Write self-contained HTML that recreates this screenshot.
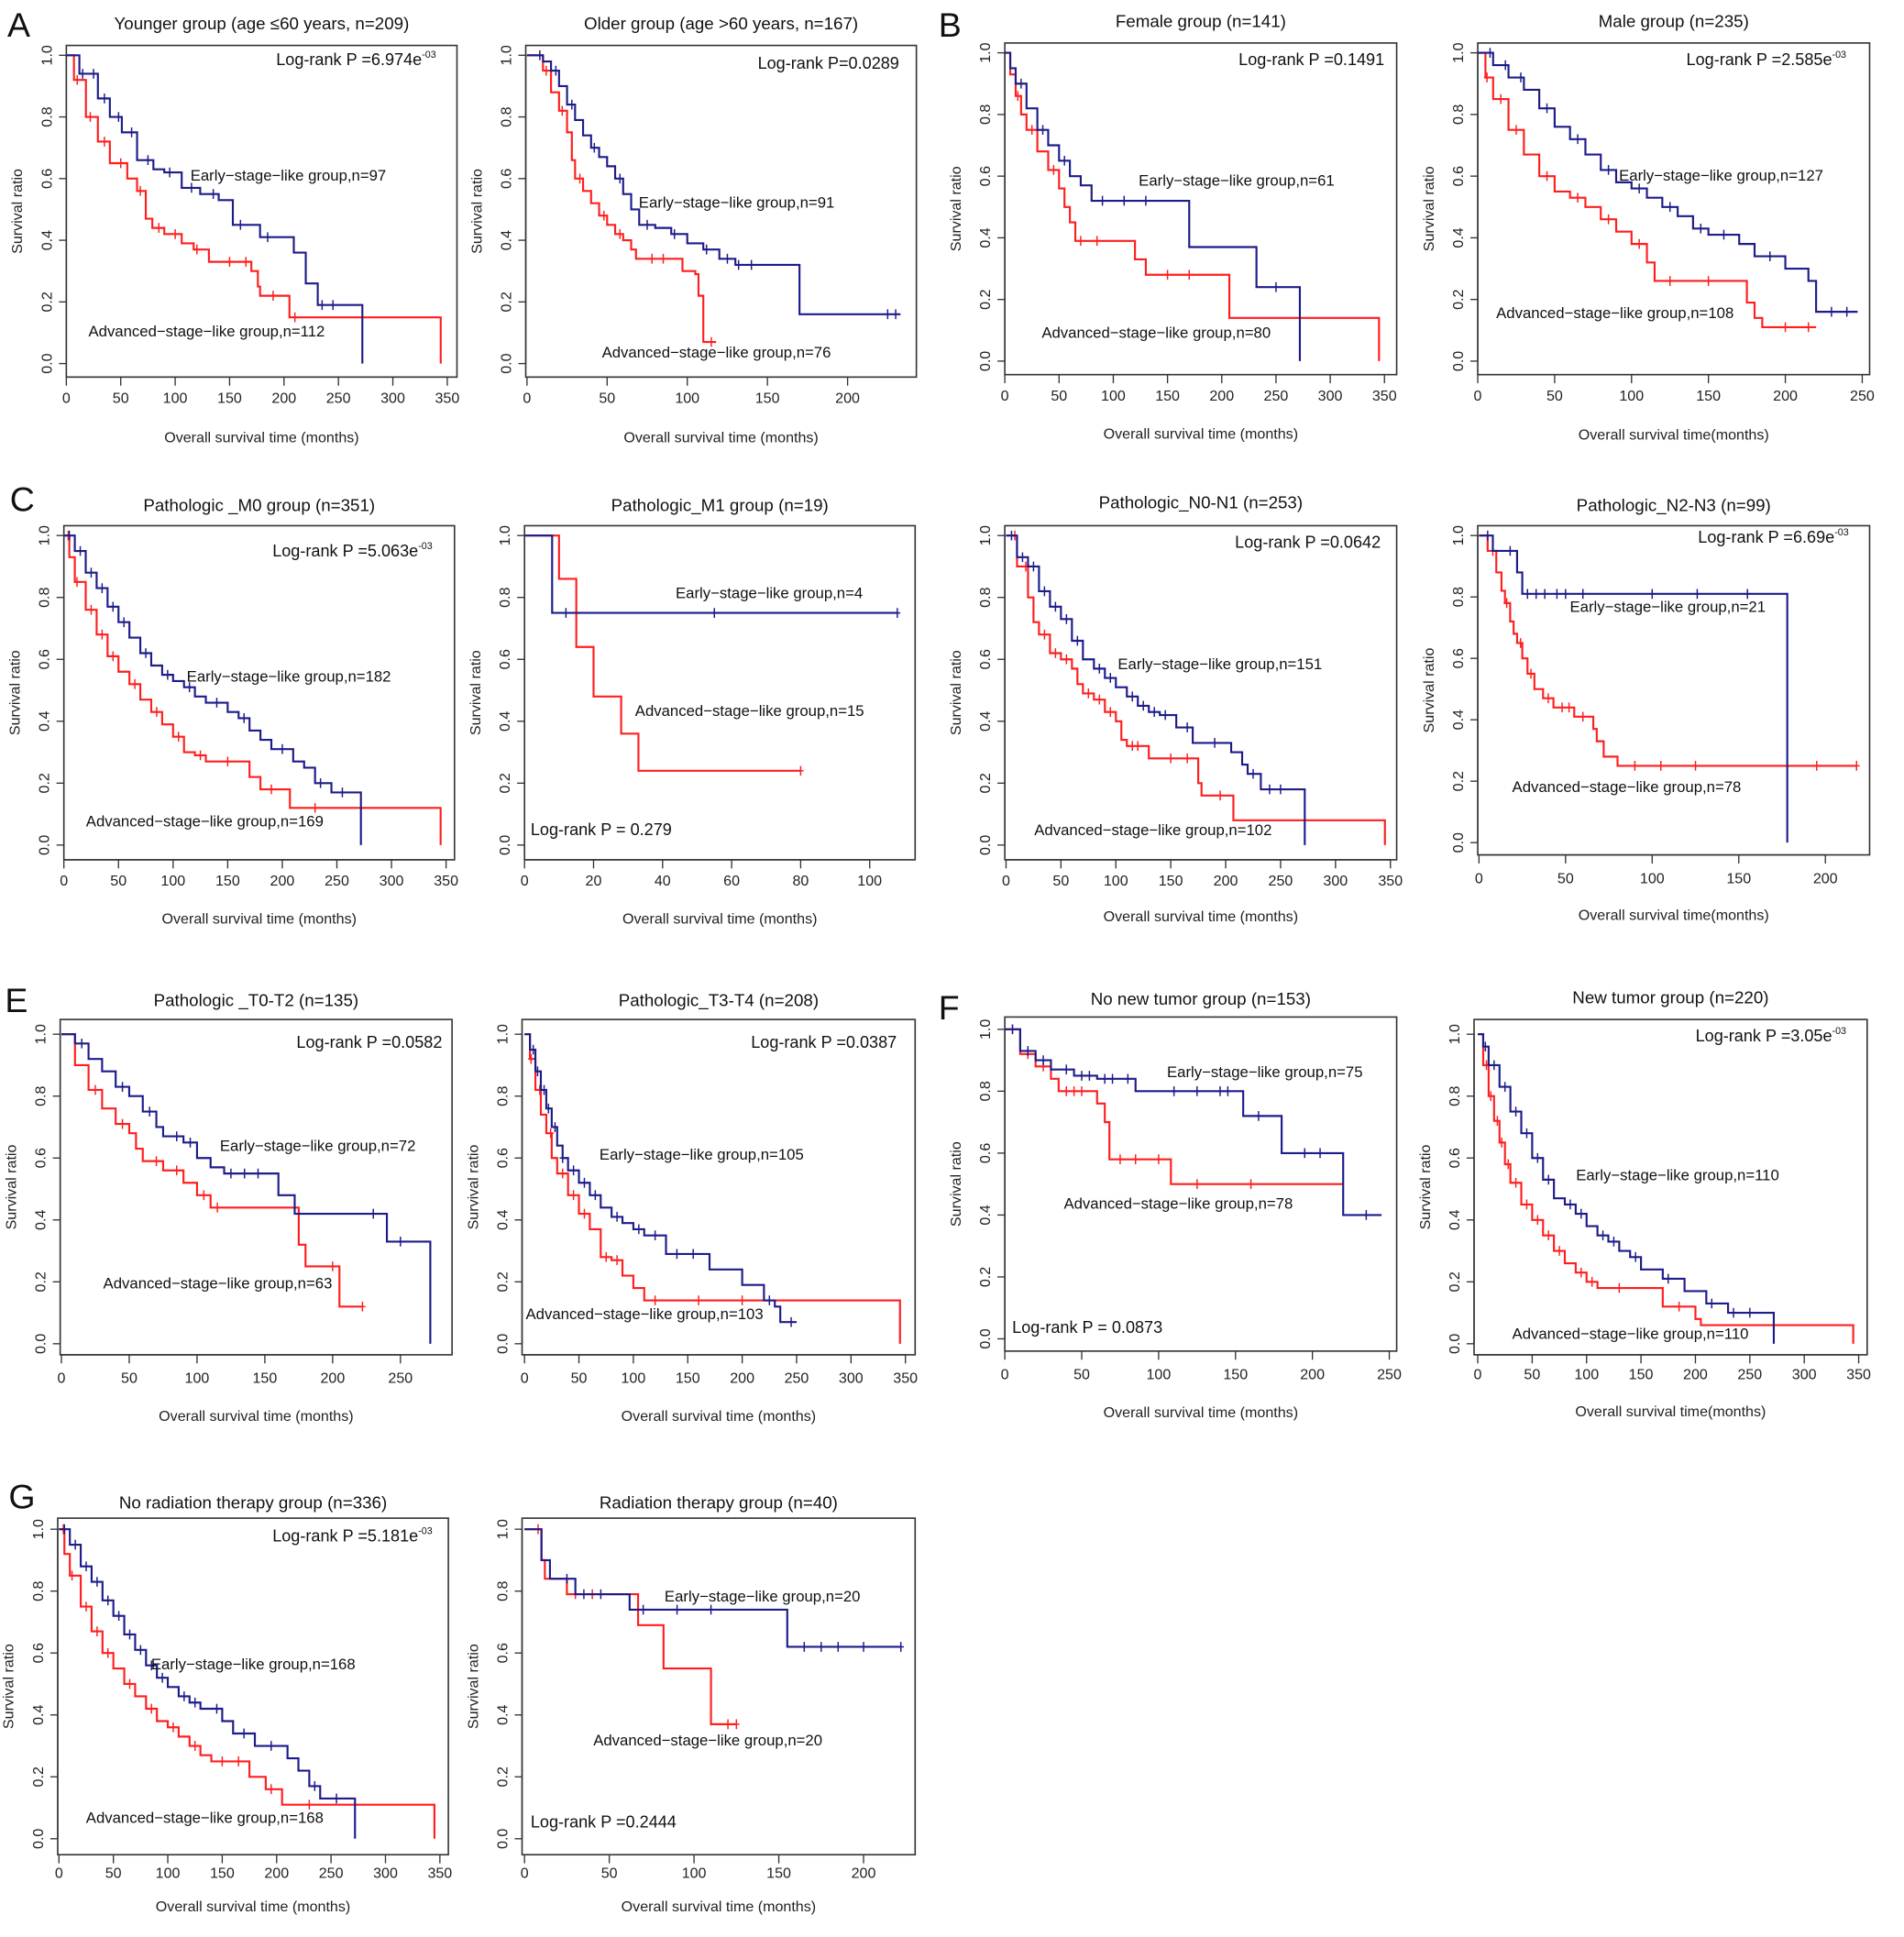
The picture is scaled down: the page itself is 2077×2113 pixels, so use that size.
<!DOCTYPE html>
<html><head><meta charset="utf-8"><title>Kaplan-Meier survival curves</title>
<style>
html,body{margin:0;padding:0;background:#fff;}
svg{display:block;font-family:"Liberation Sans",Arial,sans-serif;}
</style></head>
<body>
<svg id="fig" width="2077" height="2113" viewBox="0 0 1550 1577" preserveAspectRatio="none" xmlns="http://www.w3.org/2000/svg">
<g font-size="28" fill="#111">
<text x="6" y="30">A</text>
<text x="764" y="30">B</text>
<text x="8" y="416">C</text>
<text x="4" y="824">E</text>
<text x="764" y="830">F</text>
<text x="7" y="1228">G</text>
</g>
</svg>
<script>
// ---- data (months, survival) ----
const p1_early_t=[0,12,29,40,51,65,80,90,106,123,140,153,178,209,220,231,272];
const p1_early_s=[1,0.94,0.86,0.80,0.75,0.66,0.63,0.62,0.57,0.55,0.53,0.45,0.41,0.36,0.26,0.19,0];
const p1_early_end=272;
const p1_adv_t=[0,7,18,29,40,56,65,73,79,90,106,117,131,170,176,178,205,344];
const p1_adv_s=[1,0.92,0.80,0.72,0.65,0.60,0.56,0.47,0.44,0.42,0.39,0.37,0.33,0.30,0.25,0.22,0.15,0];
const p1_adv_end=344;
const p1_early_c=[15,25,35,48,60,75,95,115,135,160,185,235,245];
const p1_adv_c=[10,22,35,50,68,85,100,120,150,165,190,210];

const p2_early_t=[0,10,15,20,25,30,35,40,45,50,55,60,65,70,80,90,100,110,120,130,170];
const p2_early_s=[1,0.98,0.95,0.90,0.84,0.79,0.74,0.70,0.67,0.64,0.60,0.55,0.50,0.45,0.44,0.42,0.39,0.37,0.34,0.32,0.16];
const p2_early_end=233;
const p2_adv_t=[0,10,15,20,25,28,30,35,40,45,50,55,60,65,68,95,97,105,107,110];
const p2_adv_s=[1,0.95,0.88,0.82,0.75,0.66,0.60,0.56,0.52,0.48,0.45,0.42,0.40,0.37,0.34,0.34,0.30,0.29,0.22,0.07];
const p2_adv_end=118;
const p2_early_c=[8,18,28,42,58,75,92,112,125,132,140,225,230];
const p2_adv_c=[12,22,33,48,58,78,85,115];

const p3_early_t=[0,5,10,20,30,40,50,60,70,80,170,232,272];
const p3_early_s=[1,0.95,0.90,0.82,0.75,0.70,0.65,0.60,0.57,0.52,0.37,0.24,0];
const p3_early_end=272;
const p3_adv_t=[0,5,10,15,20,30,40,50,55,60,65,120,130,207,345];
const p3_adv_s=[1,0.93,0.86,0.80,0.75,0.68,0.62,0.56,0.50,0.45,0.39,0.33,0.28,0.14,0];
const p3_adv_end=345;
const p3_early_c=[15,35,55,90,110,130,250];
const p3_adv_c=[12,25,45,70,85,150,170];

const p4_early_t=[0,10,20,30,40,50,60,70,80,90,100,110,120,130,140,150,170,180,200,215,220];
const p4_early_s=[1,0.96,0.92,0.88,0.82,0.76,0.72,0.67,0.62,0.58,0.56,0.53,0.50,0.47,0.43,0.41,0.38,0.34,0.30,0.26,0.16];
const p4_early_end=247;
const p4_adv_t=[0,5,10,20,30,40,50,60,70,80,90,100,110,115,170,175,180,185];
const p4_adv_s=[1,0.92,0.85,0.75,0.67,0.60,0.55,0.53,0.50,0.46,0.42,0.38,0.32,0.26,0.26,0.19,0.14,0.11];
const p4_adv_end=220;
const p4_early_c=[8,18,28,45,65,85,105,125,145,160,190,230,240];
const p4_adv_c=[6,15,25,45,65,85,105,125,150,200,215];

const p5_early_t=[0,10,20,30,40,50,60,70,80,90,100,110,120,130,150,160,170,180,190,210,220,230,245,272];
const p5_early_s=[1,0.95,0.88,0.83,0.77,0.72,0.67,0.62,0.58,0.55,0.53,0.51,0.48,0.46,0.43,0.41,0.37,0.34,0.31,0.27,0.25,0.20,0.17,0];
const p5_early_end=272;
const p5_adv_t=[0,5,10,20,30,40,50,60,70,80,90,100,110,120,130,170,180,207,345];
const p5_adv_s=[1,0.93,0.85,0.76,0.68,0.61,0.56,0.52,0.47,0.43,0.39,0.35,0.30,0.29,0.27,0.22,0.18,0.12,0];
const p5_adv_end=345;
const p5_early_c=[5,15,25,35,45,55,75,95,115,140,165,200,235,255];
const p5_adv_c=[4,12,25,35,45,65,85,105,125,150,190,230];

const p6_early_t=[0,8];
const p6_early_s=[1,0.75];
const p6_early_end=108;
const p6_adv_t=[0,10,15,20,28,33];
const p6_adv_s=[1,0.86,0.64,0.48,0.36,0.24];
const p6_adv_end=80;
const p6_early_c=[12,55,108];
const p6_adv_c=[80];

const p7_early_t=[0,10,20,30,40,50,60,70,80,90,100,110,120,130,140,155,170,205,215,220,232,272];
const p7_early_s=[1,0.93,0.90,0.82,0.77,0.73,0.66,0.60,0.57,0.54,0.51,0.48,0.45,0.43,0.42,0.38,0.33,0.30,0.26,0.23,0.18,0];
const p7_early_end=272;
const p7_adv_t=[0,10,20,25,30,40,50,60,65,70,80,90,100,105,110,130,175,178,207,345];
const p7_adv_s=[1,0.90,0.80,0.72,0.68,0.62,0.60,0.57,0.52,0.49,0.47,0.43,0.40,0.34,0.32,0.28,0.20,0.16,0.08,0];
const p7_adv_end=345;
const p7_early_c=[5,15,25,35,45,55,65,85,95,115,125,135,145,165,190,225,240,250];
const p7_adv_c=[8,18,35,45,55,75,85,95,115,120,150,165,195];

const p8_early_t=[0,8,22,25,178];
const p8_early_s=[1,0.95,0.88,0.81,0];
const p8_early_end=178;
const p8_adv_t=[0,5,10,13,15,18,20,22,25,28,32,37,43,55,66,68,72,80];
const p8_adv_s=[1,0.95,0.88,0.82,0.78,0.72,0.68,0.65,0.60,0.55,0.50,0.47,0.44,0.41,0.37,0.33,0.28,0.25];
const p8_adv_end=218;
const p8_early_c=[5,18,28,33,38,45,50,60,100,126,155];
const p8_adv_c=[8,16,24,30,40,48,52,60,90,105,125,195,218];

const p9_early_t=[0,10,20,30,40,50,60,70,75,90,100,110,120,160,172,240,272];
const p9_early_s=[1,0.97,0.92,0.88,0.83,0.80,0.75,0.70,0.67,0.65,0.60,0.57,0.55,0.48,0.42,0.33,0];
const p9_early_end=272;
const p9_adv_t=[0,10,20,30,40,50,55,60,75,90,100,110,175,180,205];
const p9_adv_s=[1,0.90,0.82,0.76,0.71,0.68,0.63,0.59,0.56,0.52,0.48,0.44,0.32,0.25,0.12];
const p9_adv_end=222;
const p9_early_c=[15,45,65,85,95,125,135,145,230,250];
const p9_adv_c=[25,45,70,85,105,115,200,222];

const p10_early_t=[0,5,10,15,20,25,30,35,40,50,60,70,80,90,100,110,130,170,200,220,230,235];
const p10_early_s=[1,0.95,0.88,0.82,0.76,0.70,0.64,0.60,0.56,0.52,0.48,0.44,0.41,0.39,0.37,0.35,0.29,0.24,0.19,0.14,0.12,0.07];
const p10_early_end=250;
const p10_adv_t=[0,5,10,15,20,25,30,40,50,60,70,80,90,100,110,345];
const p10_adv_s=[1,0.92,0.82,0.74,0.68,0.60,0.55,0.48,0.42,0.37,0.28,0.27,0.22,0.18,0.14,0];
const p10_adv_end=345;
const p10_early_c=[8,12,18,22,28,35,45,55,65,85,105,120,140,155,225,245];
const p10_adv_c=[6,14,24,35,45,55,75,85,120,160,200];

const p11_early_t=[0,10,20,30,45,60,85,155,180,220];
const p11_early_s=[1,0.93,0.90,0.87,0.85,0.84,0.80,0.72,0.60,0.40];
const p11_early_end=245;
const p11_adv_t=[0,10,20,30,35,60,65,68,108];
const p11_adv_s=[1,0.92,0.88,0.84,0.80,0.76,0.70,0.58,0.50];
const p11_adv_end=220;
const p11_early_c=[5,15,25,40,50,55,65,70,80,110,125,140,145,165,195,205,235];
const p11_adv_c=[5,15,25,40,45,50,75,85,100,125,160];

const p12_early_t=[0,5,10,20,30,40,50,60,70,80,90,100,110,120,130,140,150,170,190,210,230,272];
const p12_early_s=[1,0.96,0.90,0.83,0.75,0.68,0.60,0.53,0.47,0.45,0.42,0.38,0.35,0.33,0.30,0.28,0.24,0.21,0.17,0.13,0.10,0];
const p12_early_end=272;
const p12_adv_t=[0,5,10,15,20,25,30,40,50,60,70,80,90,100,110,170,200,205,345];
const p12_adv_s=[1,0.90,0.80,0.72,0.65,0.58,0.52,0.45,0.40,0.35,0.30,0.26,0.23,0.20,0.18,0.12,0.08,0.06,0];
const p12_adv_end=345;
const p12_early_c=[7,15,25,35,45,55,65,85,95,115,125,145,175,215,235,250];
const p12_adv_c=[8,12,18,22,28,35,45,55,65,75,95,105,130,185];

const p13_early_t=[0,10,20,30,40,50,60,70,80,90,100,110,120,130,150,160,180,210,220,230,240,272];
const p13_early_s=[1,0.95,0.88,0.83,0.77,0.72,0.66,0.61,0.56,0.52,0.49,0.46,0.44,0.42,0.38,0.34,0.30,0.26,0.22,0.17,0.13,0];
const p13_early_end=272;
const p13_adv_t=[0,5,10,20,30,40,50,60,70,80,90,100,110,120,130,140,175,190,205,345];
const p13_adv_s=[1,0.92,0.85,0.75,0.67,0.60,0.55,0.50,0.46,0.42,0.38,0.36,0.33,0.30,0.27,0.25,0.20,0.16,0.11,0];
const p13_adv_end=345;
const p13_early_c=[5,15,25,35,45,55,65,75,85,95,115,125,145,170,195,235,255];
const p13_adv_c=[4,12,25,35,45,65,85,105,125,150,165,195,230];

const p14_early_t=[0,10,15,30,62,155];
const p14_early_s=[1,0.90,0.84,0.79,0.74,0.62];
const p14_early_end=222;
const p14_adv_t=[0,10,12,25,67,82,110];
const p14_adv_s=[1,0.90,0.84,0.79,0.69,0.55,0.37];
const p14_adv_end=125;
const p14_early_c=[25,35,45,70,90,110,165,175,185,200,222];
const p14_adv_c=[8,30,40,120,125];

// ---- layout ----
const NS='http://www.w3.org/2000/svg';
const svg=document.getElementById('fig');
function mk(tag,attrs,parent){const e=document.createElementNS(NS,tag);for(const k in attrs)e.setAttribute(k,attrs[k]);(parent||svg).appendChild(e);return e;}
const BLUE='#1c1c8a', RED='#ff1e1e';
const panels=[
 {id:'p1',f:[54,37,372,307],x0:54,k:0.886,y1:45,y0:296,tmax:350,ts:50,title:'Younger group (age \u226460 years, n=209)',xt:'Overall survival time (months)',xl:328,xtt:360,ty:24,
  lr:['Log-rank P =6.974e','-03',355,53,'end'],el:['Early\u2212stage\u2212like group,n=97',155,147],al:['Advanced\u2212stage\u2212like group,n=112',72,274],E:[p1_early_t,p1_early_s,p1_early_end,p1_early_c],A:[p1_adv_t,p1_adv_s,p1_adv_end,p1_adv_c]},
 {id:'p2',f:[428,37,746,307],x0:429,k:1.305,y1:45,y0:296,tmax:200,ts:50,title:'Older group (age >60 years, n=167)',xt:'Overall survival time (months)',xl:328,xtt:360,ty:24,
  lr:['Log-rank P=0.0289','',732,56,'end'],el:['Early\u2212stage\u2212like group,n=91',520,169],al:['Advanced\u2212stage\u2212like group,n=76',490,291],E:[p2_early_t,p2_early_s,p2_early_end,p2_early_c],A:[p2_adv_t,p2_adv_s,p2_adv_end,p2_adv_c]},
 {id:'p3',f:[818,35,1137,305],x0:818,k:0.883,y1:43,y0:294,tmax:350,ts:50,title:'Female group (n=141)',xt:'Overall survival time (months)',xl:326,xtt:357,ty:22,
  lr:['Log-rank P =0.1491','',1127,53,'end'],el:['Early\u2212stage\u2212like group,n=61',927,151],al:['Advanced\u2212stage\u2212like group,n=80',848,275],E:[p3_early_t,p3_early_s,p3_early_end,p3_early_c],A:[p3_adv_t,p3_adv_s,p3_adv_end,p3_adv_c]},
 {id:'p4',f:[1203,35,1522,305],x0:1203,k:1.252,y1:43,y0:294,tmax:250,ts:50,title:'Male group (n=235)',xt:'Overall survival time(months)',xl:326,xtt:358,ty:22,
  lr:['Log-rank P =2.585e','-03',1503,53,'end'],el:['Early\u2212stage\u2212like group,n=127',1318,147],al:['Advanced\u2212stage\u2212like group,n=108',1218,259],E:[p4_early_t,p4_early_s,p4_early_end,p4_early_c],A:[p4_adv_t,p4_adv_s,p4_adv_end,p4_adv_c]},
 {id:'p5',f:[52,428,370,700],x0:52,k:0.889,y1:436,y0:688,tmax:350,ts:50,title:'Pathologic _M0 group (n=351)',xt:'Overall survival time (months)',xl:721,xtt:752,ty:416,
  lr:['Log-rank P =5.063e','-03',352,453,'end'],el:['Early\u2212stage\u2212like group,n=182',152,555],al:['Advanced\u2212stage\u2212like group,n=169',70,673],E:[p5_early_t,p5_early_s,p5_early_end,p5_early_c],A:[p5_adv_t,p5_adv_s,p5_adv_end,p5_adv_c]},
 {id:'p6',f:[427,428,745,700],x0:427,k:2.81,y1:436,y0:688,tmax:100,ts:20,title:'Pathologic_M1 group (n=19)',xt:'Overall survival time (months)',xl:721,xtt:752,ty:416,
  lr:['Log-rank P = 0.279','',432,680,'start'],el:['Early\u2212stage\u2212like group,n=4',550,487],al:['Advanced\u2212stage\u2212like group,n=15',517,583],E:[p6_early_t,p6_early_s,p6_early_end,p6_early_c],A:[p6_adv_t,p6_adv_s,p6_adv_end,p6_adv_c]},
 {id:'p7',f:[818,428,1137,700],x0:819,k:0.894,y1:436,y0:688,tmax:350,ts:50,title:'Pathologic_N0-N1 (n=253)',xt:'Overall survival time (months)',xl:721,xtt:750,ty:414,
  lr:['Log-rank P =0.0642','',1124,446,'end'],el:['Early\u2212stage\u2212like group,n=151',910,545],al:['Advanced\u2212stage\u2212like group,n=102',842,680],E:[p7_early_t,p7_early_s,p7_early_end,p7_early_c],A:[p7_adv_t,p7_adv_s,p7_adv_end,p7_adv_c]},
 {id:'p8',f:[1203,428,1522,696],x0:1204,k:1.41,y1:436,y0:686,tmax:200,ts:50,title:'Pathologic_N2-N3 (n=99)',xt:'Overall survival time(months)',xl:719,xtt:749,ty:416,
  lr:['Log-rank P =6.69e','-03',1505,442,'end'],el:['Early\u2212stage\u2212like group,n=21',1278,498],al:['Advanced\u2212stage\u2212like group,n=78',1231,645],E:[p8_early_t,p8_early_s,p8_early_end,p8_early_c],A:[p8_adv_t,p8_adv_s,p8_adv_end,p8_adv_c]},
 {id:'p9',f:[49,830,368,1103],x0:50,k:1.104,y1:842,y0:1094,tmax:250,ts:50,title:'Pathologic _T0-T2 (n=135)',xt:'Overall survival time (months)',xl:1126,xtt:1157,ty:819,
  lr:['Log-rank P =0.0582','',360,853,'end'],el:['Early\u2212stage\u2212like group,n=72',179,937],al:['Advanced\u2212stage\u2212like group,n=63',84,1049],E:[p9_early_t,p9_early_s,p9_early_end,p9_early_c],A:[p9_adv_t,p9_adv_s,p9_adv_end,p9_adv_c]},
 {id:'p10',f:[425,830,745,1103],x0:427,k:0.886,y1:842,y0:1094,tmax:350,ts:50,title:'Pathologic_T3-T4 (n=208)',xt:'Overall survival time (months)',xl:1126,xtt:1157,ty:819,
  lr:['Log-rank P =0.0387','',730,853,'end'],el:['Early\u2212stage\u2212like group,n=105',488,944],al:['Advanced\u2212stage\u2212like group,n=103',428,1074],E:[p10_early_t,p10_early_s,p10_early_end,p10_early_c],A:[p10_adv_t,p10_adv_s,p10_adv_end,p10_adv_c]},
 {id:'p11',f:[818,828,1137,1100],x0:818,k:1.252,y1:838,y0:1090,tmax:250,ts:50,title:'No new tumor group (n=153)',xt:'Overall survival time (months)',xl:1123,xtt:1154,ty:818,
  lr:['Log-rank P = 0.0873','',824,1085,'start'],el:['Early\u2212stage\u2212like group,n=75',950,877],al:['Advanced\u2212stage\u2212like group,n=78',866,984],E:[p11_early_t,p11_early_s,p11_early_end,p11_early_c],A:[p11_adv_t,p11_adv_s,p11_adv_end,p11_adv_c]},
 {id:'p12',f:[1200,830,1520,1103],x0:1203,k:0.886,y1:842,y0:1094,tmax:350,ts:50,title:'New tumor group (n=220)',xt:'Overall survival time(months)',xl:1123,xtt:1153,ty:817,
  lr:['Log-rank P =3.05e','-03',1503,848,'end'],el:['Early\u2212stage\u2212like group,n=110',1283,961],al:['Advanced\u2212stage\u2212like group,n=110',1231,1090],E:[p12_early_t,p12_early_s,p12_early_end,p12_early_c],A:[p12_adv_t,p12_adv_s,p12_adv_end,p12_adv_c]},
 {id:'p13',f:[47,1236,365,1510],x0:48,k:0.886,y1:1245,y0:1497,tmax:350,ts:50,title:'No radiation therapy group (n=336)',xt:'Overall survival time (months)',xl:1529,xtt:1556,ty:1228,
  lr:['Log-rank P =5.181e','-03',352,1255,'end'],el:['Early\u2212stage\u2212like group,n=168',123,1359],al:['Advanced\u2212stage\u2212like group,n=168',70,1484],E:[p13_early_t,p13_early_s,p13_early_end,p13_early_c],A:[p13_adv_t,p13_adv_s,p13_adv_end,p13_adv_c]},
 {id:'p14',f:[425,1236,745,1510],x0:427,k:1.38,y1:1245,y0:1497,tmax:200,ts:50,title:'Radiation therapy group (n=40)',xt:'Overall survival time (months)',xl:1529,xtt:1556,ty:1228,
  lr:['Log-rank P =0.2444','',432,1488,'start'],el:['Early\u2212stage\u2212like group,n=20',541,1304],al:['Advanced\u2212stage\u2212like group,n=20',483,1421],E:[p14_early_t,p14_early_s,p14_early_end,p14_early_c],A:[p14_adv_t,p14_adv_s,p14_adv_end,p14_adv_c]}
];

function drawCurve(g,p,d,color,name){
  const [t,s,end,cens]=d;
  const X=v=>p.x0+v*p.k, Y=v=>p.y0-(p.y0-p.y1)*v;
  let path='M'+X(0)+' '+Y(1);
  for(let i=0;i<t.length;i++){path+=' H'+X(t[i])+' V'+Y(s[i]);}
  path+=' H'+X(end);
  const pe=mk('path',{d:path,fill:'none',stroke:color,'stroke-width':1.6},g);
  
  
  const sAt=v=>{let r=1;for(let i=0;i<t.length;i++){if(t[i]<=v)r=s[i];}return r;};
  cens.forEach(c=>{
    const cx=X(c), cy=Y(sAt(c));
    const m=mk('path',{d:`M${cx} ${cy-4} V${cy+4} M${cx-2.5} ${cy} H${cx+2.5}`,stroke:color,'stroke-width':1.1},g);
    
    
  });
}

panels.forEach(p=>{
  const g=mk('g',{});
  
  
  const [l,t,r,b]=p.f;
  const fr=mk('rect',{x:l,y:t,width:r-l,height:b-t,fill:'none',stroke:'#333','stroke-width':1.2},g);
  
  
  const ti=mk('text',{x:(l+r)/2,y:p.ty,'text-anchor':'middle','font-size':14,fill:'#111'},g);
  ti.textContent=p.title;
  
  
  // y axis
  const ya=mk('g',{},g);
  
  
  mk('line',{x1:l,y1:p.y1,x2:l,y2:p.y0,stroke:'#333','stroke-width':1},ya);
  [0,0.2,0.4,0.6,0.8,1].forEach(v=>{
    const y=p.y0-(p.y0-p.y1)*v;
    mk('line',{x1:l-6,y1:y,x2:l,y2:y,stroke:'#333','stroke-width':1},ya);
    const tx=mk('text',{x:l-12,y:y,'text-anchor':'middle','font-size':12,fill:'#222',transform:`rotate(-90 ${l-12} ${y})`},ya);
    tx.textContent=v.toFixed(1);
    
    
  });
  const yt=mk('text',{x:l-36,y:(t+b)/2,'text-anchor':'middle','font-size':12,fill:'#222',transform:`rotate(-90 ${l-36} ${(t+b)/2})`},ya);
  yt.textContent='Survival ratio';
  
  
  // x axis
  const xa=mk('g',{},g);
  
  
  mk('line',{x1:p.x0,y1:b,x2:p.x0+p.tmax*p.k,y2:b,stroke:'#333','stroke-width':1},xa);
  for(let v=0;v<=p.tmax+0.01;v+=p.ts){
    const x=p.x0+v*p.k;
    mk('line',{x1:x,y1:b,x2:x,y2:b+7,stroke:'#333','stroke-width':1},xa);
    const tx=mk('text',{x:x,y:p.xl,'text-anchor':'middle','font-size':12,fill:'#222'},xa);
    tx.textContent=String(v);
    
    
  }
  const xt=mk('text',{x:(l+r)/2,y:p.xtt,'text-anchor':'middle','font-size':12,fill:'#222'},xa);
  xt.textContent=p.xt;
  
  
  // curves
  drawCurve(g,p,p.A,RED,'advanced-stage');
  drawCurve(g,p,p.E,BLUE,'early-stage');
  // labels
  const lr=mk('text',{x:p.lr[2],y:p.lr[3],'text-anchor':p.lr[4],'font-size':13.5,fill:'#111'},g);
  lr.textContent=p.lr[0];
  if(p.lr[1]){const sp=mk('tspan',{dy:-6,'font-size':8},lr);sp.textContent=p.lr[1];}
  
  
  const el=mk('text',{x:p.el[1],y:p.el[2],'font-size':12.5,fill:'#111'},g);
  el.textContent=p.el[0];
  
  
  const al=mk('text',{x:p.al[1],y:p.al[2],'font-size':12.5,fill:'#111'},g);
  al.textContent=p.al[0];
  
  
});
</script>
</body></html>
